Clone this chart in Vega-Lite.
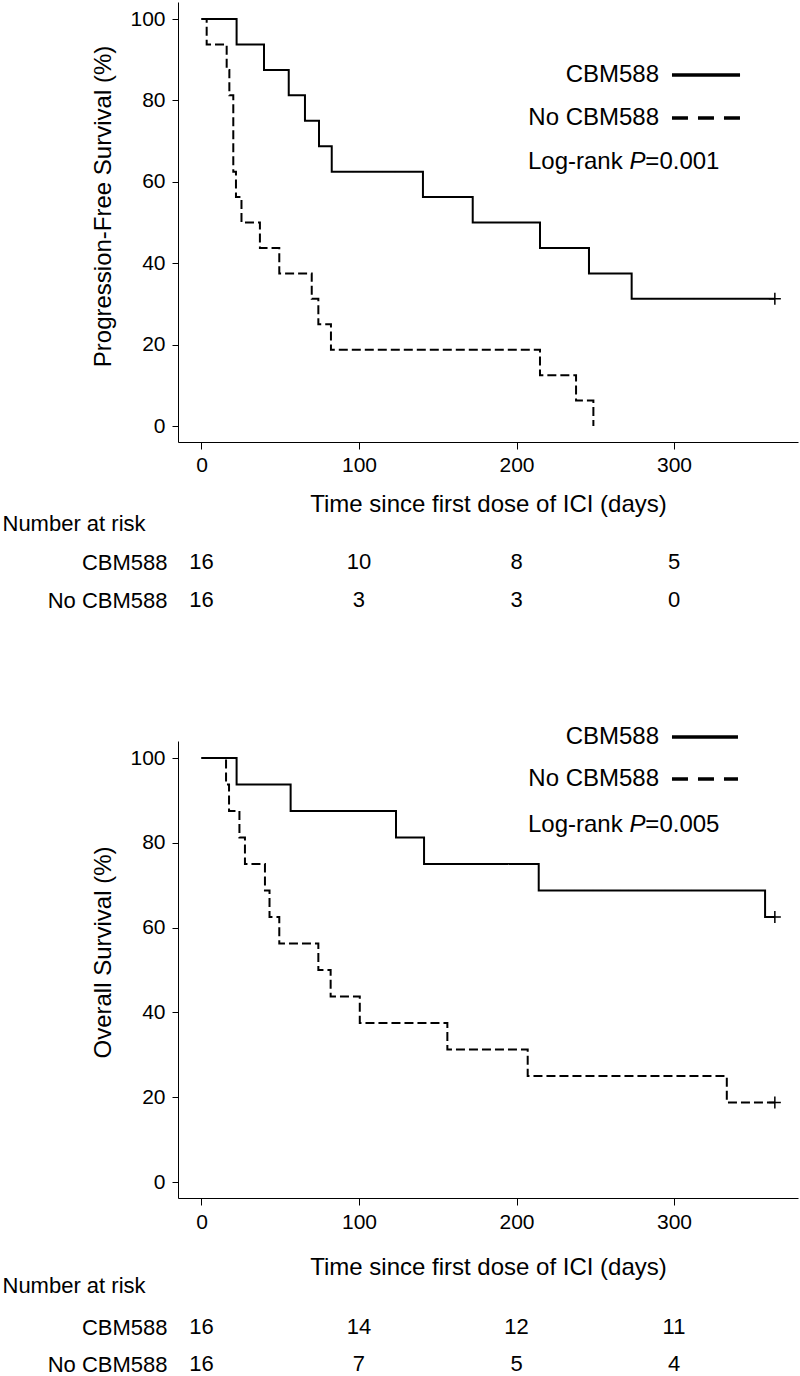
{
  "$schema": "https://vega.github.io/schema/vega-lite/v6.json",
  "background": "white",
  "padding": {"left": 2, "top": 2, "right": 2, "bottom": 0},
  "spacing": 0,
  "bounds": "flush",
  "resolve": {"scale": {"x": "independent", "y": "independent"}},
  "config": {
    "font": "Liberation Sans",
    "view": {"stroke": null},
    "axis": {"domainColor": "black", "tickColor": "black", "labelColor": "black", "titleColor": "black", "titleFontWeight": "normal", "grid": false, "labelFont": "Liberation Sans", "titleFont": "Liberation Sans", "domainWidth": 1, "tickWidth": 1},
    "text": {"color": "black", "font": "Liberation Sans"}
  },
  "datasets": {
    "km": [
      {"panel": "PFS", "group": "CBM588", "day": 0, "surv": 100},
      {"panel": "PFS", "group": "CBM588", "day": 22.3, "surv": 93.75},
      {"panel": "PFS", "group": "CBM588", "day": 39.7, "surv": 87.5},
      {"panel": "PFS", "group": "CBM588", "day": 55.4, "surv": 81.25},
      {"panel": "PFS", "group": "CBM588", "day": 65.7, "surv": 75},
      {"panel": "PFS", "group": "CBM588", "day": 74.6, "surv": 68.75},
      {"panel": "PFS", "group": "CBM588", "day": 82.7, "surv": 62.5},
      {"panel": "PFS", "group": "CBM588", "day": 140.6, "surv": 56.25},
      {"panel": "PFS", "group": "CBM588", "day": 172.2, "surv": 50},
      {"panel": "PFS", "group": "CBM588", "day": 214.9, "surv": 43.75},
      {"panel": "PFS", "group": "CBM588", "day": 246, "surv": 37.5},
      {"panel": "PFS", "group": "CBM588", "day": 273.1, "surv": 31.25},
      {"panel": "PFS", "group": "CBM588", "day": 364, "surv": 31.25},
      {"panel": "PFS", "group": "No CBM588", "day": 0, "surv": 100},
      {"panel": "PFS", "group": "No CBM588", "day": 3.3, "surv": 93.75},
      {"panel": "PFS", "group": "No CBM588", "day": 16, "surv": 87.5},
      {"panel": "PFS", "group": "No CBM588", "day": 17.7, "surv": 81.25},
      {"panel": "PFS", "group": "No CBM588", "day": 20.2, "surv": 62.5},
      {"panel": "PFS", "group": "No CBM588", "day": 21.9, "surv": 56.25},
      {"panel": "PFS", "group": "No CBM588", "day": 25.4, "surv": 50},
      {"panel": "PFS", "group": "No CBM588", "day": 37.1, "surv": 43.75},
      {"panel": "PFS", "group": "No CBM588", "day": 49.4, "surv": 37.5},
      {"panel": "PFS", "group": "No CBM588", "day": 70, "surv": 31.25},
      {"panel": "PFS", "group": "No CBM588", "day": 74.2, "surv": 25},
      {"panel": "PFS", "group": "No CBM588", "day": 82.2, "surv": 18.75},
      {"panel": "PFS", "group": "No CBM588", "day": 214.9, "surv": 12.5},
      {"panel": "PFS", "group": "No CBM588", "day": 237.8, "surv": 6.25},
      {"panel": "PFS", "group": "No CBM588", "day": 248.8, "surv": 0},
      {"panel": "OS", "group": "CBM588", "day": 0, "surv": 100},
      {"panel": "OS", "group": "CBM588", "day": 22.3, "surv": 93.75},
      {"panel": "OS", "group": "CBM588", "day": 56.6, "surv": 87.5},
      {"panel": "OS", "group": "CBM588", "day": 123.5, "surv": 81.25},
      {"panel": "OS", "group": "CBM588", "day": 141.3, "surv": 75},
      {"panel": "OS", "group": "CBM588", "day": 214.1, "surv": 68.75},
      {"panel": "OS", "group": "CBM588", "day": 357.8, "surv": 62.5},
      {"panel": "OS", "group": "CBM588", "day": 364, "surv": 62.5},
      {"panel": "OS", "group": "No CBM588", "day": 0, "surv": 100},
      {"panel": "OS", "group": "No CBM588", "day": 15.6, "surv": 93.75},
      {"panel": "OS", "group": "No CBM588", "day": 17.5, "surv": 87.5},
      {"panel": "OS", "group": "No CBM588", "day": 24.1, "surv": 81.25},
      {"panel": "OS", "group": "No CBM588", "day": 27.6, "surv": 75},
      {"panel": "OS", "group": "No CBM588", "day": 40.3, "surv": 68.75},
      {"panel": "OS", "group": "No CBM588", "day": 43.2, "surv": 62.5},
      {"panel": "OS", "group": "No CBM588", "day": 49.4, "surv": 56.25},
      {"panel": "OS", "group": "No CBM588", "day": 74.2, "surv": 50},
      {"panel": "OS", "group": "No CBM588", "day": 82, "surv": 43.75},
      {"panel": "OS", "group": "No CBM588", "day": 100.5, "surv": 37.5},
      {"panel": "OS", "group": "No CBM588", "day": 156.1, "surv": 31.25},
      {"panel": "OS", "group": "No CBM588", "day": 207.1, "surv": 25},
      {"panel": "OS", "group": "No CBM588", "day": 333.5, "surv": 18.75},
      {"panel": "OS", "group": "No CBM588", "day": 364, "surv": 18.75}
    ],
    "censor": [
      {"panel": "PFS", "group": "CBM588", "day": 364, "surv": 31.25},
      {"panel": "OS", "group": "CBM588", "day": 364, "surv": 62.5},
      {"panel": "OS", "group": "No CBM588", "day": 364, "surv": 18.75}
    ],
    "risk": [
      {"panel": "PFS", "group": "CBM588", "day": 0, "n": 16},
      {"panel": "PFS", "group": "CBM588", "day": 100, "n": 10},
      {"panel": "PFS", "group": "CBM588", "day": 200, "n": 8},
      {"panel": "PFS", "group": "CBM588", "day": 300, "n": 5},
      {"panel": "PFS", "group": "No CBM588", "day": 0, "n": 16},
      {"panel": "PFS", "group": "No CBM588", "day": 100, "n": 3},
      {"panel": "PFS", "group": "No CBM588", "day": 200, "n": 3},
      {"panel": "PFS", "group": "No CBM588", "day": 300, "n": 0},
      {"panel": "OS", "group": "CBM588", "day": 0, "n": 16},
      {"panel": "OS", "group": "CBM588", "day": 100, "n": 14},
      {"panel": "OS", "group": "CBM588", "day": 200, "n": 12},
      {"panel": "OS", "group": "CBM588", "day": 300, "n": 11},
      {"panel": "OS", "group": "No CBM588", "day": 0, "n": 16},
      {"panel": "OS", "group": "No CBM588", "day": 100, "n": 7},
      {"panel": "OS", "group": "No CBM588", "day": 200, "n": 5},
      {"panel": "OS", "group": "No CBM588", "day": 300, "n": 4}
    ]
  },
  "vconcat": [
    {
      "width": 620,
      "height": 440,
      "layer": [
        {
          "data": {"name": "km"},
          "transform": [{"filter": "datum.panel == 'PFS'"}],
          "mark": {"type": "line", "interpolate": "step-after", "color": "black", "strokeWidth": 2},
          "encoding": {
            "x": {"field": "day", "type": "quantitative", "scale": {"domain": [-14.9, 378.7], "nice": false, "zero": false},
              "axis": {"values": [0, 100, 200, 300], "tickSize": 7, "labelPadding": 5, "labelFontSize": 21, "titleFontSize": 24, "titlePadding": 17, "labelFlush": false},
              "title": "Time since first dose of ICI (days)"},
            "y": {"field": "surv", "type": "quantitative", "scale": {"domain": [-3.93, 104.18], "nice": false, "zero": false},
              "axis": {"values": [0, 20, 40, 60, 80, 100], "tickSize": 6, "labelPadding": 7, "labelFontSize": 21, "titleFontSize": 24, "titlePadding": 14, "titleY": 204, "labelFlush": false},
              "title": "Progression-Free Survival (%)"},
            "strokeDash": {"field": "group", "type": "nominal", "scale": {"domain": ["CBM588", "No CBM588"], "range": [[1, 0], [9, 4]]}, "legend": null}
          }
        },
        {
          "data": {"name": "censor"},
          "transform": [{"filter": "datum.panel == 'PFS'"}],
          "mark": {"type": "point", "shape": "M-1,0L1,0M0,-1L0,1", "size": 144, "filled": false, "color": "black", "strokeWidth": 1.5, "opacity": 1},
          "encoding": {"x": {"field": "day", "type": "quantitative"}, "y": {"field": "surv", "type": "quantitative"}}
        },
        {
          "data": {"values": [{}]},
          "mark": {"type": "text", "text": "CBM588", "fontSize": 24, "align": "right", "baseline": "middle"},
          "encoding": {"x": {"datum": 290.5, "type": "quantitative"}, "y": {"datum": 86.24, "type": "quantitative"}}
        },
        {
          "data": {"values": [{}]},
          "mark": {"type": "rule", "color": "black", "strokeWidth": 3.5},
          "encoding": {"x": {"datum": 298.7, "type": "quantitative"}, "x2": {"datum": 341.9}, "y": {"datum": 86.24, "type": "quantitative"}}
        },
        {
          "data": {"values": [{}]},
          "mark": {"type": "text", "text": "No CBM588", "fontSize": 24, "align": "right", "baseline": "middle"},
          "encoding": {"x": {"datum": 290.5, "type": "quantitative"}, "y": {"datum": 75.68, "type": "quantitative"}}
        },
        {
          "data": {"values": [{}]},
          "mark": {"type": "rule", "color": "black", "strokeWidth": 3.5, "strokeDash": [16, 10]},
          "encoding": {"x": {"datum": 298.7, "type": "quantitative"}, "x2": {"datum": 341.9}, "y": {"datum": 75.68, "type": "quantitative"}}
        },
        {
          "data": {"values": [{}]},
          "mark": {"type": "text", "text": "Log-rank", "fontSize": 24, "align": "right", "baseline": "middle"},
          "encoding": {"x": {"datum": 267.4, "type": "quantitative"}, "y": {"datum": 64.86, "type": "quantitative"}}
        },
        {
          "data": {"values": [{}]},
          "mark": {"type": "text", "text": "P", "fontSize": 24, "fontStyle": "italic", "align": "left", "baseline": "middle"},
          "encoding": {"x": {"datum": 271.7, "type": "quantitative"}, "y": {"datum": 64.86, "type": "quantitative"}}
        },
        {
          "data": {"values": [{}]},
          "mark": {"type": "text", "text": "=0.001", "fontSize": 24, "align": "left", "baseline": "middle"},
          "encoding": {"x": {"datum": 281.8, "type": "quantitative"}, "y": {"datum": 64.86, "type": "quantitative"}}
        }
      ]
    },
    {
      "width": 620,
      "height": 299,
      "data": {"name": "risk"},
      "transform": [{"filter": "datum.panel == 'PFS'"}],
      "mark": {"type": "text", "fontSize": 22, "baseline": "middle"},
      "encoding": {
        "x": {"field": "day", "type": "quantitative", "scale": {"domain": [-14.9, 378.7], "nice": false, "zero": false}, "axis": null},
        "y": {"field": "group", "type": "nominal", "scale": {"type": "point", "domain": ["CBM588", "No CBM588"], "range": [120, 158], "padding": 0},
          "axis": {"domain": false, "ticks": false, "labelPadding": 11, "labelFontSize": 22, "title": "Number at risk", "titleAngle": 0, "titleAlign": "left", "titleBaseline": "middle", "titleX": -176, "titleY": 81, "titleFontSize": 22}},
        "text": {"field": "n", "type": "quantitative"}
      }
    },
    {
      "width": 620,
      "height": 457,
      "layer": [
        {
          "data": {"name": "km"},
          "transform": [{"filter": "datum.panel == 'OS'"}],
          "mark": {"type": "line", "interpolate": "step-after", "color": "black", "strokeWidth": 2},
          "encoding": {
            "x": {"field": "day", "type": "quantitative", "scale": {"domain": [-14.9, 378.7], "nice": false, "zero": false},
              "axis": {"values": [0, 100, 200, 300], "tickSize": 7, "labelPadding": 6, "labelFontSize": 21, "titleFontSize": 24, "titlePadding": 23, "labelFlush": false},
              "title": "Time since first dose of ICI (days)"},
            "y": {"field": "surv", "type": "quantitative", "scale": {"domain": [-3.77, 104.01], "nice": false, "zero": false},
              "axis": {"values": [0, 20, 40, 60, 80, 100], "tickSize": 6, "labelPadding": 7, "labelFontSize": 21, "titleFontSize": 24, "titlePadding": 14, "titleY": 211, "labelFlush": false},
              "title": "Overall Survival (%)"},
            "strokeDash": {"field": "group", "type": "nominal", "scale": {"domain": ["CBM588", "No CBM588"], "range": [[1, 0], [9, 4]]}, "legend": null}
          }
        },
        {
          "data": {"name": "censor"},
          "transform": [{"filter": "datum.panel == 'OS'"}],
          "mark": {"type": "point", "shape": "M-1,0L1,0M0,-1L0,1", "size": 144, "filled": false, "color": "black", "strokeWidth": 1.5, "opacity": 1},
          "encoding": {"x": {"field": "day", "type": "quantitative"}, "y": {"field": "surv", "type": "quantitative"}}
        },
        {
          "data": {"values": [{}]},
          "mark": {"type": "text", "text": "CBM588", "fontSize": 24, "align": "right", "baseline": "middle"},
          "encoding": {"x": {"datum": 290.5, "type": "quantitative"}, "y": {"datum": 104.95, "type": "quantitative"}}
        },
        {
          "data": {"values": [{}]},
          "mark": {"type": "rule", "color": "black", "strokeWidth": 3.5},
          "encoding": {"x": {"datum": 298.7, "type": "quantitative"}, "x2": {"datum": 340.6}, "y": {"datum": 104.95, "type": "quantitative"}}
        },
        {
          "data": {"values": [{}]},
          "mark": {"type": "text", "text": "No CBM588", "fontSize": 24, "align": "right", "baseline": "middle"},
          "encoding": {"x": {"datum": 290.5, "type": "quantitative"}, "y": {"datum": 95.05, "type": "quantitative"}}
        },
        {
          "data": {"values": [{}]},
          "mark": {"type": "rule", "color": "black", "strokeWidth": 3.5, "strokeDash": [16, 10]},
          "encoding": {"x": {"datum": 298.7, "type": "quantitative"}, "x2": {"datum": 340.6}, "y": {"datum": 95.05, "type": "quantitative"}}
        },
        {
          "data": {"values": [{}]},
          "mark": {"type": "text", "text": "Log-rank", "fontSize": 24, "align": "right", "baseline": "middle"},
          "encoding": {"x": {"datum": 267.4, "type": "quantitative"}, "y": {"datum": 84.2, "type": "quantitative"}}
        },
        {
          "data": {"values": [{}]},
          "mark": {"type": "text", "text": "P", "fontSize": 24, "fontStyle": "italic", "align": "left", "baseline": "middle"},
          "encoding": {"x": {"datum": 271.7, "type": "quantitative"}, "y": {"datum": 84.2, "type": "quantitative"}}
        },
        {
          "data": {"values": [{}]},
          "mark": {"type": "text", "text": "=0.005", "fontSize": 24, "align": "left", "baseline": "middle"},
          "encoding": {"x": {"datum": 281.8, "type": "quantitative"}, "y": {"datum": 84.2, "type": "quantitative"}}
        }
      ]
    },
    {
      "width": 620,
      "height": 178,
      "data": {"name": "risk"},
      "transform": [{"filter": "datum.panel == 'OS'"}],
      "mark": {"type": "text", "fontSize": 22, "baseline": "middle"},
      "encoding": {
        "x": {"field": "day", "type": "quantitative", "scale": {"domain": [-14.9, 378.7], "nice": false, "zero": false}, "axis": null},
        "y": {"field": "group", "type": "nominal", "scale": {"type": "point", "domain": ["CBM588", "No CBM588"], "range": [129, 166], "padding": 0},
          "axis": {"domain": false, "ticks": false, "labelPadding": 11, "labelFontSize": 22, "title": "Number at risk", "titleAngle": 0, "titleAlign": "left", "titleBaseline": "middle", "titleX": -176, "titleY": 87, "titleFontSize": 22}},
        "text": {"field": "n", "type": "quantitative"}
      }
    }
  ]
}
